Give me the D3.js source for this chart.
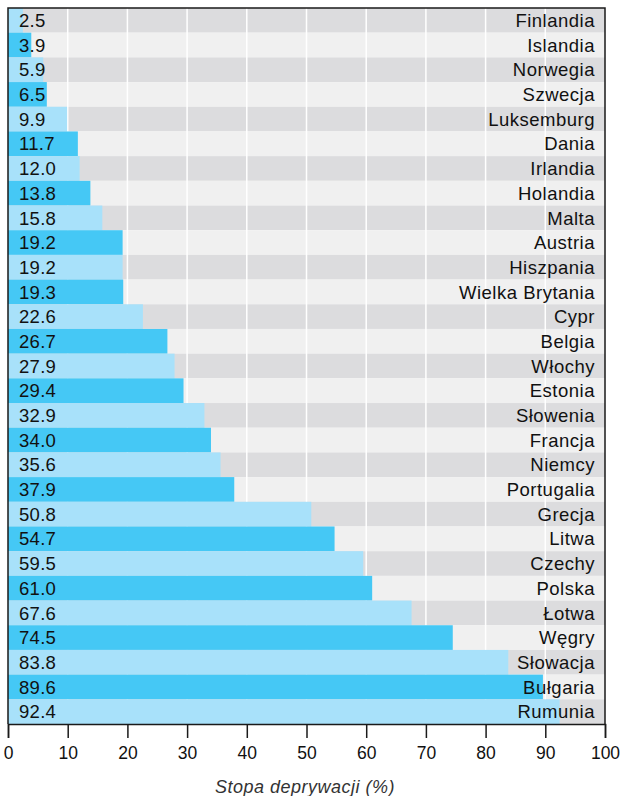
<!DOCTYPE html>
<html>
<head>
<meta charset="utf-8">
<script src="https://cdn.jsdelivr.net/npm/d3@7"></script>
<style>
body { margin: 0; background: #fff; }
svg { display: block; font-family: "Liberation Sans", Arial, sans-serif; }
</style>
</head>
<body>
<div class="chart"></div>
<script>
var countries = ["Finlandia", "Islandia", "Norwegia", "Szwecja", "Luksemburg", "Dania", "Irlandia", "Holandia", "Malta", "Austria", "Hiszpania", "Wielka Brytania", "Cypr", "Belgia", "Włochy", "Estonia", "Słowenia", "Francja", "Niemcy", "Portugalia", "Grecja", "Litwa", "Czechy", "Polska", "Łotwa", "Węgry", "Słowacja", "Bułgaria", "Rumunia"];
var values = [2.5, 3.9, 5.9, 6.5, 9.9, 11.7, 12.0, 13.8, 15.8, 19.2, 19.2, 19.3, 22.6, 26.7, 27.9, 29.4, 32.9, 34.0, 35.6, 37.9, 50.8, 54.7, 59.5, 61.0, 67.6, 74.5, 83.8, 89.6, 92.4];
var ticks = [0, 10, 20, 30, 40, 50, 60, 70, 80, 90, 100];
var axisTitle = "Stopa deprywacji (%)";

var plotLeft = 8, plotRight = 605, plotTop = 8, plotBottom = 724;

var x = d3.scaleLinear().domain([0, 100]).range([plotLeft, plotRight]);
var y = d3.scaleBand().domain(countries).range([plotTop, plotBottom]);

var svg = d3.select(".chart").append("svg")
	.attr("width", 622)
	.attr("height", 796);

// background stripes
svg.selectAll("rect.band").data(countries).enter().append("rect")
	.attr("class", "band")
	.attr("x", x(0)).attr("width", x(100) - x(0))
	.attr("y", function(d) { return y(d); })
	.attr("height", y.bandwidth())
	.attr("fill", function(d, i) { return i % 2 == 0 ? "#dcdcde" : "#f0f0f0"; });

// white grid
svg.selectAll("line.grid").data(ticks.slice(1, -1)).enter().append("line")
	.attr("class", "grid")
	.attr("x1", function(d) { return x(d); }).attr("x2", function(d) { return x(d); })
	.attr("y1", plotTop).attr("y2", plotBottom)
	.attr("stroke", "#fff").attr("stroke-width", 1.5);

// bars
svg.selectAll("rect.bar").data(values).enter().append("rect")
	.attr("class", "bar")
	.attr("x", x(0))
	.attr("y", function(d, i) { return y(countries[i]); })
	.attr("width", function(d) { return x(d) - x(0); })
	.attr("height", y.bandwidth())
	.attr("fill", function(d, i) { return i % 2 == 0 ? "#a8e1fa" : "#45c8f5"; });

// value labels
svg.selectAll("text.val").data(values).enter().append("text")
	.attr("class", "val")
	.attr("x", 19)
	.attr("y", function(d, i) { return y(countries[i]) + y.bandwidth() / 2; })
	.attr("dy", "0.36em")
	.attr("font-size", 18.5)
	.attr("letter-spacing", 0.3)
	.attr("fill", "#111")
	.text(function(d) { return d.toFixed(1); });

// country labels
svg.selectAll("text.name").data(countries).enter().append("text")
	.attr("class", "name")
	.attr("x", 595)
	.attr("y", function(d) { return y(d) + y.bandwidth() / 2; })
	.attr("dy", "0.36em")
	.attr("text-anchor", "end")
	.attr("font-size", 18.5)
	.attr("letter-spacing", 0.5)
	.attr("fill", "#111")
	.text(function(d) { return d; });

// frame
svg.append("path")
	.attr("d", "M" + x(0) + "," + plotBottom + "V" + plotTop + "H" + x(100) + "V" + plotBottom)
	.attr("fill", "none").attr("stroke", "#1a1a1a").attr("stroke-width", 1.5);

// axis
var axis = svg.append("g")
	.attr("transform", "translate(0," + plotBottom + ")")
	.call(d3.axisBottom(x).tickValues(ticks).tickSize(14).tickPadding(9).tickFormat(d3.format("d")));
axis.select(".domain").attr("stroke", "#1a1a1a").attr("stroke-width", 1.5);
axis.selectAll(".tick line").attr("stroke", "#1a1a1a").attr("stroke-width", 1.5);
axis.selectAll(".tick text").attr("font-size", 17.5).attr("fill", "#111")
	.attr("font-family", "Liberation Sans, Arial, sans-serif");

svg.append("text")
	.attr("x", 305).attr("y", 793)
	.attr("text-anchor", "middle")
	.attr("font-size", 18)
	.attr("letter-spacing", 0.5)
	.attr("font-style", "italic")
	.attr("fill", "#333")
	.text(axisTitle);
</script>
</body>
</html>
